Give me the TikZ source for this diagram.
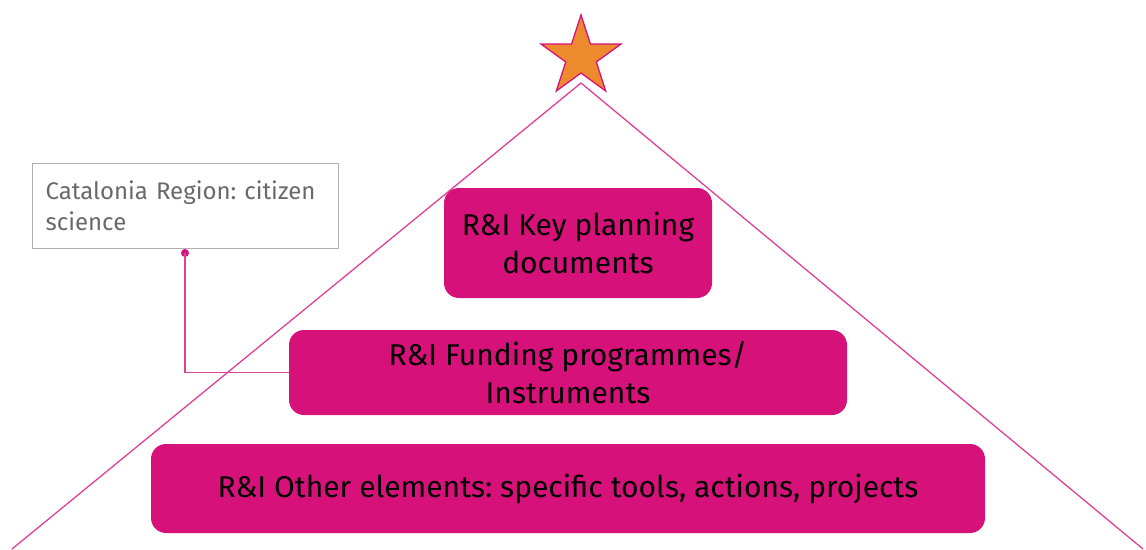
\documentclass[tikz,border=0pt]{standalone}
\usepackage{fontspec}
\setmainfont{Fira Sans}
\frenchspacing
\usetikzlibrary{shapes.geometric}
\definecolor{rimagenta}{RGB}{214,18,122}
\definecolor{starorange}{RGB}{238,138,46}
\definecolor{notegray}{RGB}{105,105,105}
\definecolor{notedraw}{RGB}{175,175,175}

\begin{document}
\begin{tikzpicture}[x=1pt, y=-1pt,
    level/.style = {fill=rimagenta, rounded corners=15pt, align=center,
                    font=\fontsize{30}{38}\selectfont, inner sep=0pt},
    note/.style = {draw=notedraw, line width=1.3pt, align=left, anchor=north west,
                   text=notegray, font=\fontsize{24}{31}\selectfont,
                   inner xsep=13pt, inner ysep=0pt, text width=280pt,
                   minimum height=85pt},
    pink/.style = {draw=rimagenta!80, line width=1.3pt}]
    \useasboundingbox (0,0) rectangle (1146,549);

    % Pyramid outline and star
    \coordinate (apex) at (581,83);
    \coordinate (baseL) at (12,549);
    \coordinate (baseR) at (1143,549);
    \draw[pink] (baseL) -- (apex) -- (baseR);
    \node[star, star points=5, star point ratio=2.618, minimum size=84pt,
          inner sep=0pt, fill=starorange, draw=rimagenta, line width=1.3pt]
          (top) at (581,57) {};

    % Levels
    \node[level, minimum width=268pt, minimum height=110pt] (key) at (578,243)
        {R\&I Key planning\\documents};
    \node[level, minimum width=558pt, minimum height=85pt] (funding) at (568,372.5)
        {R\&I Funding programmes/\\Instruments};
    \node[level, minimum width=834pt, minimum height=89pt] (other) at (568,488.5)
        {R\&I Other elements: specific tools, actions, projects};

    % Callout
    \node[note] (catalonia) at (32,163) {Catalonia Region: citizen\\science};
    \coordinate (pin) at (185,253);
    \fill[rimagenta] (pin) circle (4pt);
    \draw[pink] (pin) |- (funding.west);
\end{tikzpicture}
\end{document}
